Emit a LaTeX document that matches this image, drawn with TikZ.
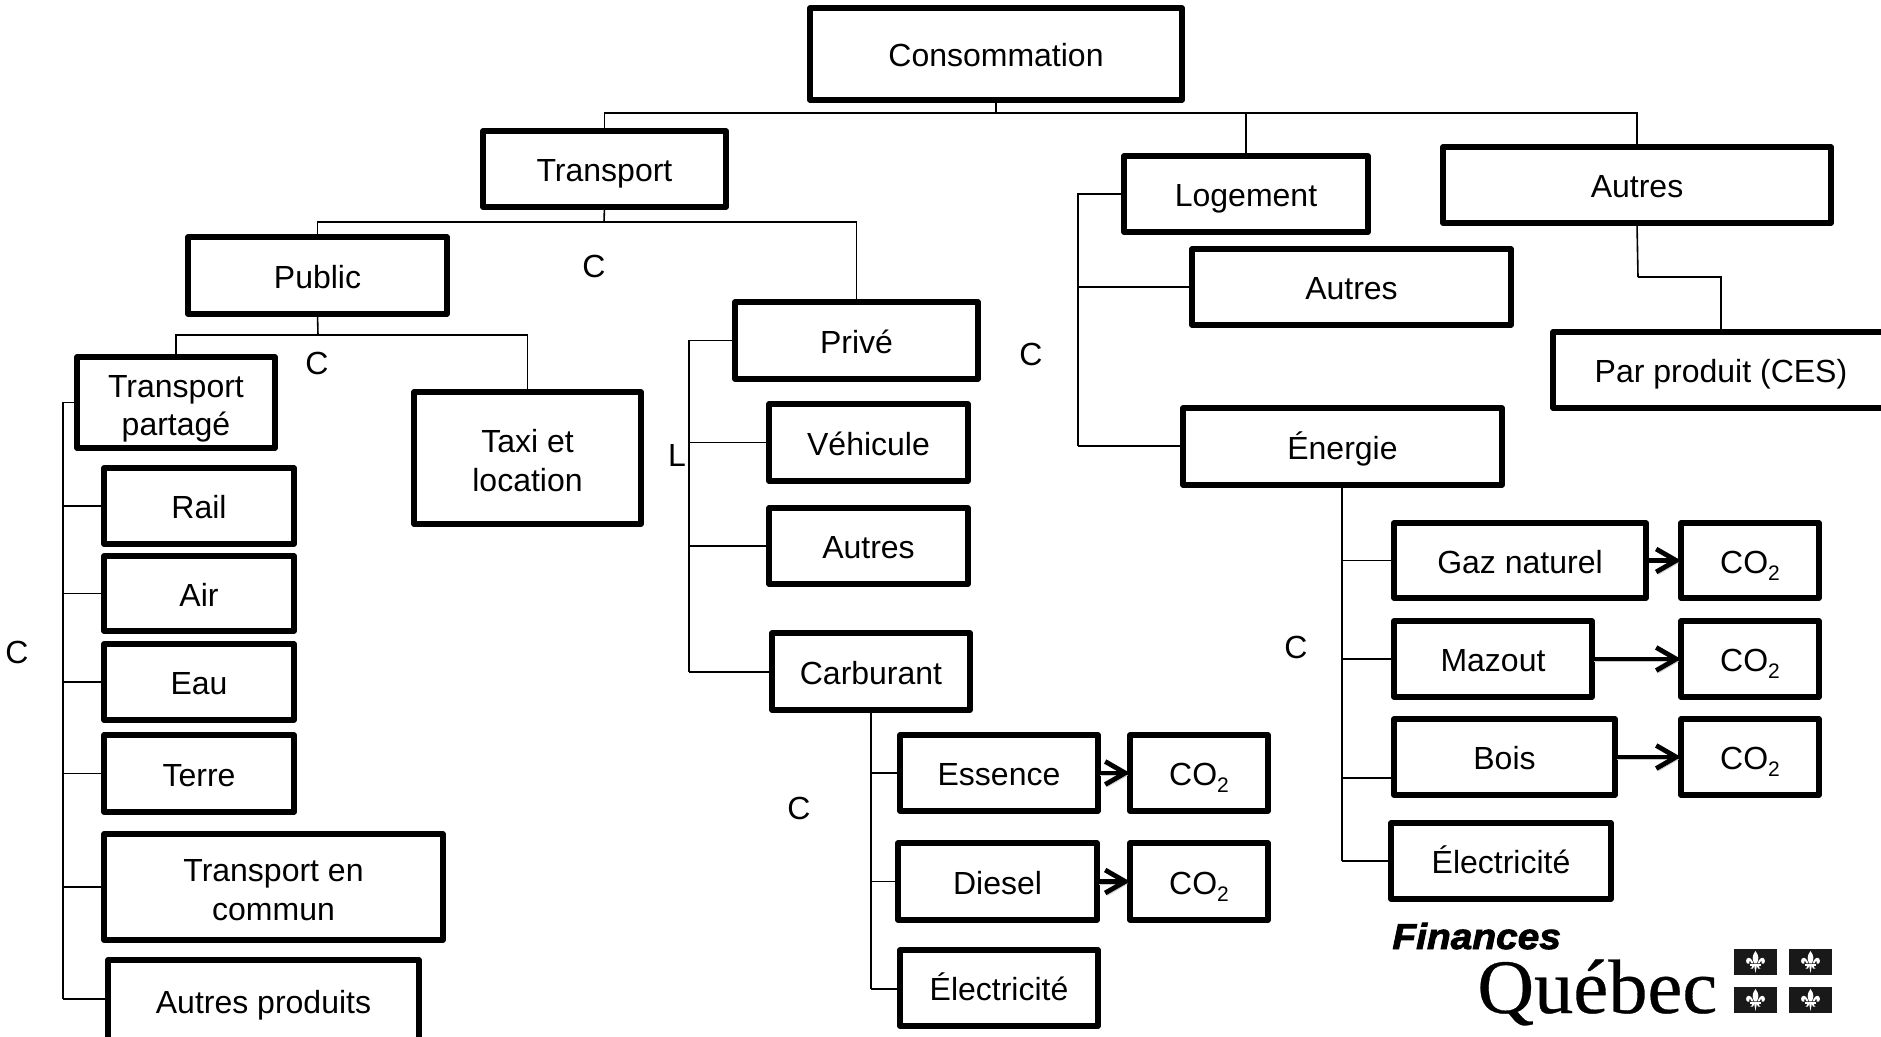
\documentclass[tikz,border=0pt]{standalone}
\usepackage{fontspec}
\setmainfont{Liberation Sans}
\newfontfamily\finfont[UprightFont=* Bold Italic,FakeBold=2.4,FakeStretch=1.08]{Liberation Sans}
\newfontfamily\quefont[FakeBold=0.4,FakeStretch=1.02]{Liberation Serif}
\usetikzlibrary{arrows.meta,calc}
\newcommand{\cotwo}{CO\raisebox{-3.5pt}{\fontsize{10.5}{12}\selectfont 2}}
\newcommand{\bxstrut}{\rule[-3.4pt]{0pt}{19.6pt}}
\newcommand{\twoup}{\rule{0pt}{17.5pt}}
\tikzset{
  box/.style={draw=black,line width=2.6pt,line join=round,fill=white,inner sep=0pt,outer sep=0pt,align=center,
    font=\fontsize{16}{19.3}\selectfont,execute at begin node=\bxstrut,execute at end node=\bxstrut},
  conn/.style={draw=black,line width=0.8pt},
  arr/.style={draw=black,line width=2.4pt,-{Straight Barb[length=10pt,width=11.5pt,line width=2.4pt]},
    preaction={draw=black!22,transform canvas={xshift=1pt,yshift=-1.2pt}}},
  lab/.style={font=\fontsize{16}{19}\selectfont,inner sep=0pt},
  flag/.style={fill=black!90,draw=none},
  lis/.style={fill=white,draw=none}
}
\newcommand{\bx}[6]{\node[box,minimum width={(#4-#2)*0.5pt},minimum height={(#5-#3)*0.5pt}] (#1) at ({(#2+#4)/2},{(#3+#5)/2}) {#6};}
\newcommand{\fleur}[2]{\begin{scope}[shift={(#1,#2)},scale=0.92]
 \fill[lis] (0,-12) .. controls (-4.5,-6.5) and (-3.2,-2) .. (-1.4,1.5) -- (1.4,1.5) .. controls (3.2,-2) and (4.5,-6.5) .. (0,-12) -- cycle;
 \fill[lis] (-2.2,1.5) .. controls (-3.6,-3) and (-7,-6.5) .. (-9.5,-3.5) .. controls (-11.5,-0.5) and (-9,3) .. (-6.6,1.8) .. controls (-7.4,0.2) and (-7,-1.4) .. (-5.8,-1) .. controls (-4.6,-0.6) and (-4.6,0.6) .. (-4.4,1.5) -- cycle;
 \fill[lis] (2.2,1.5) .. controls (3.6,-3) and (7,-6.5) .. (9.5,-3.5) .. controls (11.5,-0.5) and (9,3) .. (6.6,1.8) .. controls (7.4,0.2) and (7,-1.4) .. (5.8,-1) .. controls (4.6,-0.6) and (4.6,0.6) .. (4.4,1.5) -- cycle;
 \fill[lis] (-5.5,2.2) rectangle (5.5,4.2);
 \fill[lis] (-1.4,4.2) -- (0,12) -- (1.4,4.2) -- cycle;
 \fill[lis] (-1.2,4.2) .. controls (-1.6,7) and (-4,8.6) .. (-5.6,7.2) .. controls (-4.2,7) and (-3.8,5.6) .. (-3.6,4.2) -- cycle;
 \fill[lis] (1.2,4.2) .. controls (1.6,7) and (4,8.6) .. (5.6,7.2) .. controls (4.2,7) and (3.8,5.6) .. (3.6,4.2) -- cycle;
\end{scope}}
\begin{document}
\begin{tikzpicture}[x=0.5pt,y=-0.5pt]
\useasboundingbox (0,0) rectangle (1881,1037);
% boxes
\bx{cons}{810}{8}{1182}{100}{Consommation}
\bx{trans}{483}{131}{726}{207}{Transport}
\bx{pub}{188}{237}{447}{314}{Public}
\bx{tp}{77}{357}{275}{448}{\twoup Transport\\partagé}
\bx{taxi}{414}{392}{641}{524}{\twoup Taxi et\\location}
\bx{rail}{104}{468}{294}{544}{Rail}
\bx{air}{104}{556}{294}{631}{Air}
\bx{eau}{104}{644}{294}{720}{Eau}
\bx{terre}{104}{735}{294}{812}{Terre}
\bx{tec}{104}{834}{443}{940}{\twoup Transport en\\commun}
\bx{ap}{108}{960}{419}{1042}{Autres produits}
\bx{prive}{735}{302}{978}{379}{Privé}
\bx{veh}{769}{404}{968}{481}{Véhicule}
\bx{autp}{769}{508}{968}{584}{Autres}
\bx{carb}{772}{633}{970}{710}{Carburant}
\bx{ess}{900}{735}{1098}{811}{Essence}
\bx{coa}{1130}{735}{1268}{811}{\cotwo}
\bx{die}{898}{843}{1097}{920}{Diesel}
\bx{cob}{1130}{843}{1268}{920}{\cotwo}
\bx{elc}{900}{950}{1098}{1026}{Électricité}
\bx{log}{1124}{156}{1368}{232}{Logement}
\bx{aut}{1443}{147}{1831}{223}{Autres}
\bx{autl}{1192}{249}{1511}{325}{Autres}
\bx{pp}{1553}{332}{1889}{408}{Par produit (CES)}
\bx{ene}{1183}{408}{1502}{485}{Énergie}
\bx{gaz}{1394}{523}{1646}{598}{Gaz naturel}
\bx{coc}{1681}{523}{1819}{598}{\cotwo}
\bx{maz}{1394}{621}{1592}{697}{Mazout}
\bx{cod}{1681}{621}{1819}{697}{\cotwo}
\bx{boi}{1394}{719}{1615}{795}{Bois}
\bx{coe}{1681}{719}{1819}{795}{\cotwo}
\bx{ele}{1391}{823}{1611}{899}{Électricité}
% bus points
\coordinate (b0) at (996,113);
\coordinate (b1) at (604,222);
\coordinate (b2) at (318,335);
\coordinate (tt) at (63,999);
\coordinate (pt) at (689,672);
\coordinate (ct) at (871,989);
\coordinate (lt) at (1078,446);
\coordinate (et) at (1342,861);
\coordinate (ab) at (1638,277);
% connectors
\draw[conn] (cons.south) -- (b0);
\draw[conn] (b0) -| (trans.north);
\draw[conn] (b0) -| (log.north);
\draw[conn] (b0) -| (aut.north);
\draw[conn] (trans.south) -- (b1);
\draw[conn] (b1) -| (pub.north);
\draw[conn] (b1) -| (prive.north);
\draw[conn] (pub.south) -- (b2);
\draw[conn] (b2) -| (tp.north);
\draw[conn] (b2) -| (taxi.north);
\draw[conn] (tp.west) -| (tt);
\draw[conn] (tt) -- (ap.west |- tt);
\foreach \n in {rail,air,eau,terre,tec} \draw[conn] (\n.west) -- (\n.west -| tt);
\draw[conn] (prive.west) -| (pt);
\draw[conn] (pt) -- (pt -| carb.west);
\foreach \n in {veh,autp} \draw[conn] (\n.west) -- (\n.west -| pt);
\draw[conn] (carb.south -| ct) -- (ct);
\draw[conn] (ct) -- (ct -| elc.west);
\foreach \n in {ess,die} \draw[conn] (\n.west) -- (\n.west -| ct);
\draw[conn] (log.west) -| (lt);
\draw[conn] (lt) -- (lt -| ene.west);
\draw[conn] (autl.west) -- (autl.west -| lt);
\draw[conn] (ene.south -| et) -- (et);
\draw[conn] (et) -- (et -| ele.west);
\foreach \n in {gaz,maz} \draw[conn] (\n.west) -- (\n.west -| et);
\draw[conn] (et |- 0,778) -- (1394,778);
\draw[conn] (aut.south) -- (ab);
\draw[conn] (ab) -| (1721,332);
\draw[arr] (gaz.east) -- (coc.west);
\draw[arr] (maz.east) -- (cod.west);
\draw[arr] (boi.east) -- (coe.west);
\draw[arr] (ess.east) -- (coa.west);
\draw[arr] (die.east) -- (cob.west);
% letters
\node[lab] (c1) at (594,266) {C};
\node[lab] (c2) at (317,363) {C};
\node[lab] (c3) at (17,652) {C};
\node[lab] (c4) at (1031,354) {C};
\node[lab] (c5) at (1296,647) {C};
\node[lab] (c6) at (799,808) {C};
\node[lab] (l1) at (677,455) {L};
% logo
\node[inner sep=0pt,anchor=base west,font=\finfont\fontsize{18}{20}\selectfont] (fin) at (1392,949) {Finances};
\node[inner sep=0pt,anchor=base west,font=\quefont\fontsize{38.5}{42}\selectfont] (que) at (1477,1013) {Québec};
\fill[flag] (1734,949) rectangle (1777,975);
\fill[flag] (1789,949) rectangle (1832,975);
\fill[flag] (1734,987) rectangle (1777,1013);
\fill[flag] (1789,987) rectangle (1832,1013);
\fleur{1755.5}{962}
\fleur{1810.5}{962}
\fleur{1755.5}{1000}
\fleur{1810.5}{1000}
\end{tikzpicture}
\end{document}
